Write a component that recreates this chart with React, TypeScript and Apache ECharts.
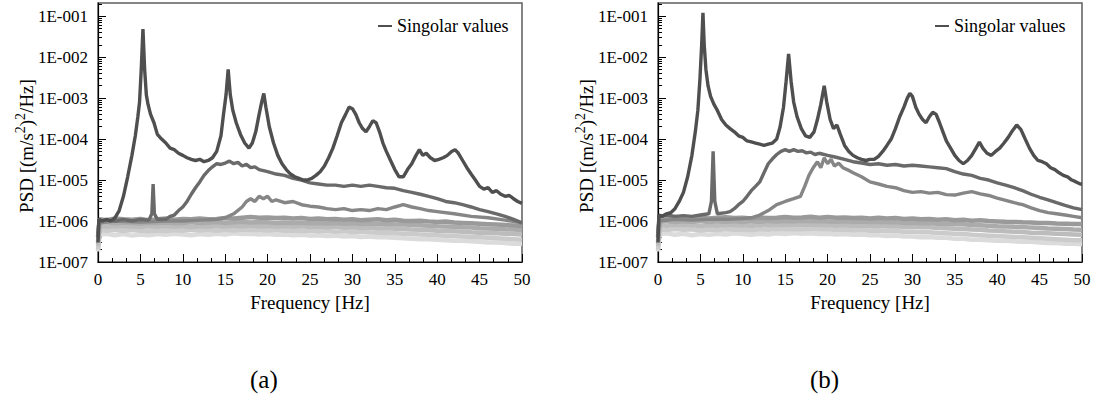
import { useEffect, useRef } from 'react';
import * as echarts from 'echarts';

const FONT = 'Liberation Serif';

// frequency grid shared by the low "noise band" singular values
const FREQ_BAND = [0, 0.2, 1, 2, 3, 4, 5, 6, 7, 8, 9, 10, 11, 12, 13, 14, 15, 16, 17, 18, 19, 20, 21, 22, 23, 24, 25, 26, 27, 28, 29, 30, 31, 32, 33, 34, 35, 36, 37, 38, 39, 40, 41, 42, 43, 44, 45, 46, 47, 48, 49, 50];

const Y_TICK_EXP = [-7, -6, -5, -4, -3, -2, -1];

// ---------- panel (a) ----------
const A1: [number, number][] = [
  [0, 3e-7], [0.1, 1.1e-6], [0.5, 1.0e-6], [1, 1.1e-6], [1.5, 1.0e-6], [2, 1.2e-6], [2.5, 1.8e-6], [3, 4e-6], [3.5, 1.2e-5], [4, 4e-5],
  [4.4, 1.2e-4], [4.7, 3.5e-4], [4.9, 8e-4], [5.1, 5e-3], [5.3, 4.8e-2], [5.5, 5e-3], [5.7, 1.2e-3], [5.9, 7e-4], [6.2, 4e-4], [6.6, 2.5e-4],
  [7, 1.3e-4], [7.5, 1e-4], [8, 8e-5], [8.5, 6e-5], [9, 5.5e-5], [9.5, 4.5e-5], [10, 4e-5], [10.5, 3.5e-5], [11, 3.2e-5], [11.5, 3e-5],
  [12, 3.2e-5], [12.5, 2.8e-5], [13, 3e-5], [13.5, 3.5e-5], [14, 5e-5], [14.5, 1.2e-4], [14.8, 4e-4], [15.1, 1.2e-3], [15.35, 5e-3], [15.6, 1.2e-3],
  [15.9, 5e-4], [16.3, 2.5e-4], [16.8, 1.3e-4], [17.3, 8e-5], [17.8, 6e-5], [18.2, 8e-5], [18.6, 1.5e-4], [19, 4e-4], [19.3, 8e-4], [19.55, 1.3e-3],
  [19.8, 6e-4], [20.2, 2e-4], [20.7, 8e-5], [21.2, 4e-5], [21.7, 2.5e-5], [22.2, 1.8e-5], [22.7, 1.4e-5], [23.2, 1.2e-5], [23.7, 1.1e-5], [24.2, 1e-5],
  [24.7, 1e-5], [25.2, 1.1e-5], [25.7, 1.3e-5], [26.2, 1.6e-5], [26.7, 2.2e-5], [27.2, 3.5e-5], [27.7, 6e-5], [28.2, 1.2e-4], [28.7, 2.5e-4], [29.2, 4e-4],
  [29.6, 6e-4], [30, 5.5e-4], [30.4, 4e-4], [30.8, 2.5e-4], [31.2, 1.8e-4], [31.6, 1.5e-4], [32, 2e-4], [32.4, 2.8e-4], [32.8, 2.5e-4], [33.2, 1.5e-4],
  [33.6, 8e-5], [34, 5e-5], [34.5, 3e-5], [35, 1.8e-5], [35.5, 1.2e-5], [36, 1.2e-5], [36.5, 1.8e-5], [37, 2.5e-5], [37.5, 4e-5], [37.9, 5.5e-5],
  [38.3, 4e-5], [38.7, 4.5e-5], [39.2, 3.5e-5], [39.7, 3e-5], [40.2, 3.2e-5], [40.7, 3.5e-5], [41.2, 4e-5], [41.7, 5e-5], [42.1, 5.5e-5], [42.5, 4.5e-5],
  [43, 3e-5], [43.5, 2e-5], [44, 1.4e-5], [44.5, 1e-5], [45, 7e-6], [45.5, 6e-6], [46, 6.5e-6], [46.5, 5e-6], [47, 5.5e-6], [47.5, 4.5e-6],
  [48, 4e-6], [48.5, 4.2e-6], [49, 3.5e-6], [49.5, 3e-6], [50, 2.7e-6],
];

const A2: [number, number][] = [
  [0, 4e-7], [0.1, 1e-6], [1, 1.05e-6], [2, 1e-6], [3, 1.1e-6], [4, 1e-6], [5, 1.1e-6], [6, 1.05e-6], [6.35, 1.5e-6], [6.5, 8e-6],
  [6.65, 1.5e-6], [7, 1.1e-6], [8, 1.1e-6], [8.5, 1.3e-6], [9, 1.4e-6], [9.5, 1.8e-6], [10, 2.2e-6], [10.5, 3e-6], [11, 4.5e-6], [11.5, 6.5e-6],
  [12, 9e-6], [12.5, 1.3e-5], [13, 1.7e-5], [13.5, 2.1e-5], [14, 2.5e-5], [14.5, 2.4e-5], [15, 2.6e-5], [15.5, 2.9e-5], [16, 2.5e-5], [16.5, 2.7e-5],
  [17, 2.2e-5], [17.5, 2.4e-5], [18, 2e-5], [18.5, 2.1e-5], [19, 1.8e-5], [20, 1.6e-5], [21, 1.4e-5], [22, 1.3e-5], [23, 1.1e-5], [24, 1e-5],
  [25, 8.5e-6], [26, 8e-6], [27, 7.5e-6], [28, 7.5e-6], [29, 7e-6], [30, 7.5e-6], [31, 7e-6], [32, 7.5e-6], [33, 7e-6], [34, 6.5e-6],
  [35, 6.3e-6], [36, 5.5e-6], [37, 5e-6], [38, 4.5e-6], [39, 4e-6], [40, 3.5e-6], [41, 3e-6], [42, 2.8e-6], [43, 2.5e-6], [44, 2.2e-6],
  [45, 1.9e-6], [46, 1.7e-6], [47, 1.5e-6], [48, 1.3e-6], [49, 1.1e-6], [50, 9e-7],
];

const A3: [number, number][] = [
  [0, 5e-7], [0.1, 9e-7], [2, 1e-6], [5, 9.5e-7], [8, 1e-6], [10, 1e-6], [12, 1.05e-6], [14, 1.1e-6], [15, 1.2e-6], [16, 1.5e-6],
  [17, 2.2e-6], [17.5, 3e-6], [18, 3.5e-6], [18.5, 3e-6], [19, 4e-6], [19.5, 3.5e-6], [20, 4e-6], [20.5, 3e-6], [21, 3.3e-6], [22, 2.8e-6],
  [23, 3e-6], [24, 2.5e-6], [25, 2.3e-6], [26, 2.2e-6], [27, 2e-6], [28, 1.9e-6], [29, 2e-6], [30, 1.8e-6], [31, 1.9e-6], [32, 1.8e-6],
  [33, 2e-6], [34, 1.9e-6], [35, 2.2e-6], [36, 2.5e-6], [37, 2.2e-6], [38, 2e-6], [39, 1.8e-6], [40, 1.7e-6], [42, 1.5e-6], [44, 1.3e-6],
  [46, 1.2e-6], [48, 1.05e-6], [50, 9e-7],
];

const A4 = [
  4e-7, 1.1e-6, 1.05e-6, 1.15e-6, 1.1e-6, 1.08e-6, 1.12e-6, 1.05e-6, 1.1e-6, 1.15e-6, 1.08e-6,
  1.12e-6, 1.1e-6, 1.15e-6, 1.1e-6, 1.12e-6, 1.18e-6, 1.15e-6, 1.2e-6, 1.25e-6, 1.2e-6,
  1.22e-6, 1.18e-6, 1.2e-6, 1.15e-6, 1.18e-6, 1.12e-6, 1.15e-6, 1.1e-6, 1.12e-6, 1.08e-6,
  1.1e-6, 1.05e-6, 1.08e-6, 1.1e-6, 1.05e-6, 1.08e-6, 1.02e-6, 1.0e-6, 1.02e-6, 9.8e-7,
  9.5e-7, 9.7e-7, 9.2e-7, 9.0e-7, 8.8e-7, 8.6e-7, 8.4e-7, 8.2e-7, 8.0e-7, 7.8e-7,
  7.6e-7,
];
const A5 = [
  3e-7, 9e-7, 9.3e-7, 8.8e-7, 9.2e-7, 9e-7, 8.7e-7, 9.1e-7, 8.9e-7, 9.2e-7, 8.8e-7,
  9.0e-7, 9.3e-7, 8.9e-7, 9.1e-7, 9.4e-7, 9.0e-7, 9.3e-7, 9.6e-7, 9.2e-7, 9.5e-7,
  9.3e-7, 9.0e-7, 9.2e-7, 8.9e-7, 9.1e-7, 8.8e-7, 9.0e-7, 8.7e-7, 8.9e-7, 8.6e-7,
  8.8e-7, 8.5e-7, 8.7e-7, 8.4e-7, 8.5e-7, 8.2e-7, 8.3e-7, 8.0e-7, 7.9e-7, 7.7e-7,
  7.5e-7, 7.4e-7, 7.2e-7, 7.0e-7, 6.9e-7, 6.7e-7, 6.6e-7, 6.5e-7, 6.3e-7, 6.2e-7,
  6.0e-7,
];
const A6 = [
  2.5e-7, 7.5e-7, 7.2e-7, 7.6e-7, 7.3e-7, 7.5e-7, 7.1e-7, 7.4e-7, 7.2e-7, 7.5e-7, 7.3e-7,
  7.4e-7, 7.1e-7, 7.5e-7, 7.3e-7, 7.6e-7, 7.4e-7, 7.7e-7, 7.5e-7, 7.8e-7, 7.5e-7,
  7.6e-7, 7.3e-7, 7.5e-7, 7.2e-7, 7.4e-7, 7.1e-7, 7.3e-7, 7.0e-7, 7.2e-7, 6.9e-7,
  7.0e-7, 6.8e-7, 6.9e-7, 6.6e-7, 6.7e-7, 6.5e-7, 6.4e-7, 6.2e-7, 6.1e-7, 6.0e-7,
  5.8e-7, 5.7e-7, 5.6e-7, 5.5e-7, 5.3e-7, 5.2e-7, 5.1e-7, 5.0e-7, 4.9e-7, 4.8e-7,
  4.7e-7,
];
const A7 = [
  2e-7, 6e-7, 5.8e-7, 6.1e-7, 5.7e-7, 6.0e-7, 5.8e-7, 5.6e-7, 5.9e-7, 5.7e-7, 6.0e-7,
  5.8e-7, 6.1e-7, 5.9e-7, 6.0e-7, 5.8e-7, 6.1e-7, 5.9e-7, 6.2e-7, 6.0e-7, 6.1e-7,
  5.9e-7, 6.0e-7, 5.8e-7, 5.9e-7, 5.7e-7, 5.8e-7, 5.6e-7, 5.7e-7, 5.5e-7, 5.6e-7,
  5.4e-7, 5.5e-7, 5.3e-7, 5.2e-7, 5.1e-7, 5.0e-7, 4.9e-7, 4.8e-7, 4.7e-7, 4.6e-7,
  4.5e-7, 4.4e-7, 4.3e-7, 4.2e-7, 4.1e-7, 4.0e-7, 3.9e-7, 3.8e-7, 3.7e-7, 3.6e-7,
  3.5e-7,
];
const A8 = [
  1.8e-7, 4.6e-7, 4.9e-7, 4.5e-7, 4.8e-7, 4.4e-7, 4.7e-7, 4.5e-7, 4.8e-7, 4.6e-7, 4.9e-7,
  4.7e-7, 4.5e-7, 4.8e-7, 4.6e-7, 4.9e-7, 4.7e-7, 5.0e-7, 4.8e-7, 4.9e-7, 4.7e-7,
  4.8e-7, 4.6e-7, 4.7e-7, 4.5e-7, 4.6e-7, 4.4e-7, 4.5e-7, 4.3e-7, 4.4e-7, 4.2e-7,
  4.3e-7, 4.1e-7, 4.2e-7, 4.0e-7, 4.0e-7, 3.9e-7, 3.8e-7, 3.7e-7, 3.6e-7, 3.6e-7,
  3.5e-7, 3.4e-7, 3.3e-7, 3.3e-7, 3.2e-7, 3.1e-7, 3.0e-7, 3.0e-7, 2.9e-7, 2.8e-7,
  2.8e-7,
];

// ---------- panel (b) ----------
const B1: [number, number][] = [
  [0, 3e-7], [0.1, 1.4e-6], [0.5, 1.3e-6], [1, 1.5e-6], [1.5, 1.6e-6], [2, 2e-6], [2.5, 3e-6], [3, 5e-6], [3.5, 1.2e-5], [4, 4e-5],
  [4.4, 1.5e-4], [4.7, 5e-4], [4.95, 3e-3], [5.15, 2e-2], [5.3, 1.2e-1], [5.45, 2e-2], [5.65, 5e-3], [5.9, 2e-3], [6.2, 1.1e-3], [6.6, 7e-4],
  [7, 5e-4], [7.5, 3e-4], [8, 2.2e-4], [8.5, 1.8e-4], [9, 1.5e-4], [9.5, 1.2e-4], [10, 1.1e-4], [10.5, 9e-5], [11, 8.5e-5], [11.5, 8e-5],
  [12, 7.5e-5], [12.5, 7e-5], [13, 7.5e-5], [13.5, 8e-5], [14, 1e-4], [14.4, 2e-4], [14.8, 6e-4], [15.1, 2.5e-3], [15.4, 1.2e-2], [15.7, 2.5e-3],
  [16, 8e-4], [16.4, 3.5e-4], [16.9, 1.8e-4], [17.4, 1.2e-4], [17.9, 1.1e-4], [18.4, 1.5e-4], [18.8, 3e-4], [19.2, 7e-4], [19.6, 2e-3], [19.9, 8e-4],
  [20.3, 3e-4], [20.7, 1.8e-4], [21.1, 2.2e-4], [21.5, 1.3e-4], [22, 7e-5], [22.5, 5e-5], [23, 4e-5], [23.5, 3.5e-5], [24, 3.2e-5], [24.5, 3e-5],
  [25, 3.2e-5], [25.5, 3.2e-5], [26, 3.8e-5], [26.5, 5e-5], [27, 7e-5], [27.5, 1e-4], [28, 1.8e-4], [28.5, 3.5e-4], [29, 6e-4], [29.4, 1e-3],
  [29.7, 1.3e-3], [30, 1.1e-3], [30.4, 6e-4], [30.8, 4e-4], [31.2, 3e-4], [31.6, 2.5e-4], [32, 3.5e-4], [32.4, 4.5e-4], [32.8, 4e-4], [33.2, 2.5e-4],
  [33.6, 1.5e-4], [34, 9e-5], [34.5, 6e-5], [35, 4e-5], [35.5, 3e-5], [36, 2.5e-5], [36.5, 3e-5], [37, 4e-5], [37.5, 6e-5], [37.9, 8.5e-5],
  [38.3, 6e-5], [38.8, 4.5e-5], [39.3, 4e-5], [39.8, 5e-5], [40.3, 6e-5], [40.8, 8e-5], [41.3, 1.1e-4], [41.8, 1.6e-4], [42.3, 2.2e-4], [42.8, 1.7e-4],
  [43.3, 1e-4], [43.8, 6e-5], [44.3, 4e-5], [44.8, 3e-5], [45.3, 2.8e-5], [45.8, 2.5e-5], [46.3, 2e-5], [46.8, 1.8e-5], [47.3, 1.5e-5], [47.8, 1.3e-5],
  [48.3, 1.2e-5], [48.8, 1e-5], [49.3, 9e-6], [49.8, 8e-6], [50, 8e-6],
];

const B2: [number, number][] = [
  [0, 4e-7], [0.1, 1.3e-6], [1, 1.4e-6], [2, 1.3e-6], [3, 1.35e-6], [4, 1.3e-6], [5, 1.4e-6], [6, 1.5e-6], [6.3, 3e-6], [6.5, 5e-5],
  [6.7, 3e-6], [7, 1.5e-6], [8, 1.6e-6], [8.5, 1.7e-6], [9, 2e-6], [9.5, 2.5e-6], [10, 3e-6], [10.5, 4e-6], [11, 5.5e-6], [11.5, 7e-6],
  [12, 9e-6], [12.5, 1.5e-5], [13, 2.5e-5], [13.5, 3.3e-5], [14, 4.2e-5], [14.5, 5e-5], [15, 5.5e-5], [15.5, 5e-5], [16, 5.5e-5], [16.5, 5e-5],
  [17, 5.2e-5], [17.5, 4.6e-5], [18, 4.8e-5], [18.5, 4.2e-5], [19, 4.5e-5], [20, 4e-5], [21, 3.6e-5], [22, 3.2e-5], [23, 2.8e-5], [24, 2.6e-5],
  [25, 2.4e-5], [26, 2.5e-5], [27, 2.3e-5], [28, 2.4e-5], [29, 2.2e-5], [30, 2.3e-5], [31, 2.2e-5], [32, 2.1e-5], [33, 2e-5], [34, 1.9e-5],
  [35, 1.6e-5], [36, 1.4e-5], [37, 1.3e-5], [38, 1.1e-5], [39, 1e-5], [40, 8.5e-6], [41, 7.5e-6], [42, 6.5e-6], [43, 5.5e-6], [44, 4.5e-6],
  [45, 3.8e-6], [46, 3.3e-6], [47, 2.8e-6], [48, 2.4e-6], [49, 2.1e-6], [50, 1.9e-6],
];

const B3: [number, number][] = [
  [0, 5e-7], [0.1, 1e-6], [2, 1.1e-6], [4, 1.05e-6], [6, 1.1e-6], [8, 1.1e-6], [10, 1.15e-6], [11, 1.2e-6], [12, 1.4e-6], [13, 1.8e-6],
  [14, 2.5e-6], [15, 3e-6], [16, 3.5e-6], [16.8, 4e-6], [17.3, 7e-6], [17.8, 1.3e-5], [18.3, 2e-5], [18.8, 2.8e-5], [19.2, 2e-5], [19.6, 3.5e-5],
  [20, 2.5e-5], [20.4, 3.2e-5], [20.8, 2.2e-5], [21.3, 2.6e-5], [21.8, 2e-5], [22.3, 1.8e-5], [23, 1.5e-5], [24, 1.2e-5], [25, 9e-6], [26, 8e-6],
  [27, 7e-6], [28, 6.5e-6], [29, 5.5e-6], [30, 5e-6], [31, 5.2e-6], [32, 4.8e-6], [33, 5e-6], [34, 4.4e-6], [35, 4.3e-6], [36, 4.8e-6],
  [37, 5.2e-6], [38, 4.6e-6], [39, 4.2e-6], [40, 3.6e-6], [41, 3.2e-6], [42, 2.8e-6], [43, 2.5e-6], [44, 2.1e-6], [45, 1.8e-6], [46, 1.6e-6],
  [47, 1.5e-6], [48, 1.4e-6], [49, 1.3e-6], [50, 1.2e-6],
];

const B4 = [
  4e-7, 1.2e-6, 1.15e-6, 1.25e-6, 1.2e-6, 1.18e-6, 1.22e-6, 1.15e-6, 1.2e-6, 1.24e-6, 1.18e-6,
  1.2e-6, 1.16e-6, 1.22e-6, 1.18e-6, 1.2e-6, 1.25e-6, 1.2e-6, 1.22e-6, 1.28e-6, 1.2e-6,
  1.25e-6, 1.2e-6, 1.22e-6, 1.18e-6, 1.2e-6, 1.15e-6, 1.2e-6, 1.15e-6, 1.18e-6, 1.12e-6,
  1.15e-6, 1.1e-6, 1.12e-6, 1.08e-6, 1.1e-6, 1.05e-6, 1.08e-6, 1.02e-6, 1.04e-6, 1.0e-6,
  9.8e-7, 9.6e-7, 9.5e-7, 9.3e-7, 9.2e-7, 9.0e-7, 8.9e-7, 8.7e-7, 8.6e-7, 8.5e-7,
  8.4e-7,
];
const B5 = [
  3e-7, 9.8e-7, 1.0e-6, 9.5e-7, 9.9e-7, 9.6e-7, 1.0e-6, 9.4e-7, 9.8e-7, 9.6e-7, 9.9e-7,
  9.5e-7, 9.8e-7, 9.6e-7, 1.0e-6, 9.7e-7, 1.0e-6, 9.8e-7, 1.02e-6, 9.9e-7, 1.0e-6,
  9.8e-7, 9.6e-7, 9.8e-7, 9.5e-7, 9.7e-7, 9.4e-7, 9.5e-7, 9.2e-7, 9.3e-7, 9.0e-7,
  9.1e-7, 8.8e-7, 8.9e-7, 8.6e-7, 8.6e-7, 8.3e-7, 8.3e-7, 8.0e-7, 7.9e-7, 7.7e-7,
  7.5e-7, 7.4e-7, 7.2e-7, 7.1e-7, 6.9e-7, 6.8e-7, 6.6e-7, 6.5e-7, 6.4e-7, 6.2e-7,
  6.1e-7,
];
const B6 = [
  2.5e-7, 8e-7, 7.7e-7, 8.1e-7, 7.8e-7, 8.0e-7, 7.6e-7, 7.9e-7, 7.7e-7, 8.0e-7, 7.8e-7,
  7.9e-7, 7.6e-7, 8.0e-7, 7.8e-7, 8.1e-7, 7.9e-7, 8.2e-7, 8.0e-7, 8.2e-7, 7.9e-7,
  8.0e-7, 7.7e-7, 7.9e-7, 7.6e-7, 7.8e-7, 7.5e-7, 7.6e-7, 7.3e-7, 7.4e-7, 7.1e-7,
  7.2e-7, 7.0e-7, 7.0e-7, 6.8e-7, 6.7e-7, 6.5e-7, 6.4e-7, 6.2e-7, 6.1e-7, 5.9e-7,
  5.8e-7, 5.6e-7, 5.5e-7, 5.4e-7, 5.2e-7, 5.1e-7, 5.0e-7, 4.9e-7, 4.8e-7, 4.7e-7,
  4.6e-7,
];
const B7 = [
  2e-7, 6.3e-7, 6.0e-7, 6.4e-7, 6.1e-7, 6.3e-7, 5.9e-7, 6.2e-7, 6.0e-7, 6.3e-7, 6.1e-7,
  6.2e-7, 5.9e-7, 6.3e-7, 6.1e-7, 6.4e-7, 6.2e-7, 6.4e-7, 6.2e-7, 6.5e-7, 6.2e-7,
  6.3e-7, 6.0e-7, 6.2e-7, 5.9e-7, 6.0e-7, 5.8e-7, 5.9e-7, 5.6e-7, 5.7e-7, 5.5e-7,
  5.5e-7, 5.3e-7, 5.3e-7, 5.1e-7, 5.0e-7, 4.9e-7, 4.8e-7, 4.6e-7, 4.5e-7, 4.4e-7,
  4.3e-7, 4.2e-7, 4.1e-7, 4.0e-7, 3.9e-7, 3.8e-7, 3.7e-7, 3.6e-7, 3.5e-7, 3.4e-7,
  3.4e-7,
];
const B8 = [
  1.8e-7, 4.8e-7, 5.0e-7, 4.6e-7, 4.9e-7, 4.5e-7, 4.8e-7, 4.6e-7, 4.9e-7, 4.7e-7, 5.0e-7,
  4.8e-7, 4.6e-7, 4.9e-7, 4.7e-7, 5.0e-7, 4.8e-7, 5.1e-7, 4.9e-7, 5.0e-7, 4.8e-7,
  4.9e-7, 4.7e-7, 4.8e-7, 4.6e-7, 4.7e-7, 4.5e-7, 4.5e-7, 4.3e-7, 4.4e-7, 4.2e-7,
  4.2e-7, 4.0e-7, 4.1e-7, 3.9e-7, 3.9e-7, 3.7e-7, 3.7e-7, 3.5e-7, 3.5e-7, 3.4e-7,
  3.3e-7, 3.3e-7, 3.2e-7, 3.1e-7, 3.1e-7, 3.0e-7, 2.9e-7, 2.9e-7, 2.8e-7, 2.8e-7,
  2.7e-7,
];

const LEGEND_NAME = 'Singolar values';
const CAPTIONS = ['(a)', '(b)'];
const Y_NAME = '{n|PSD [(m/s}{s|2}{n|)}{s|2}{n|/Hz]}';
const X_NAME = 'Frequency [Hz]';

const BAND_COLORS = ['#9a9a9a', '#ababab', '#bcbcbc', '#cbcbcb', '#dbdbdb'];
const SV_COLORS = ['#4f4f4f', '#6a6a6a', '#868686'];

const Y_MIN = 1e-7;
const Y_MAX = 0.209;
const LOG_MAX = Math.log10(Y_MAX);

const PANEL_LEFT = [98, 658];

function buildOption() {
  const minorTicks: number[] = [];
  Y_TICK_EXP.forEach((e) => {
    for (let k = 2; k <= 9; k++) {
      const v = e + Math.log10(k);
      if (v < LOG_MAX) minorTicks.push(v);
    }
  });

  const grids = PANEL_LEFT.map((left) => ({
    left, top: 3, width: 424, height: 259,
    show: true, borderColor: '#5e5e5e', borderWidth: 1.5, backgroundColor: 'transparent',
  }));

  const xAxes = PANEL_LEFT.map((_, i) => ({
    type: 'value', gridIndex: i, min: 0, max: 50, interval: 5,
    axisLine: { show: true, onZero: false, lineStyle: { color: '#000', width: 1.2 } },
    axisTick: { show: true, inside: true, length: 8, lineStyle: { color: '#000', width: 1 } },
    minorTick: { show: true, splitNumber: 3, length: 4, lineStyle: { color: '#000', width: 1 } },
    axisLabel: { fontFamily: FONT, fontSize: 17, color: '#000', margin: 9 },
    splitLine: { show: false }, minorSplitLine: { show: false },
    name: X_NAME, nameLocation: 'middle', nameGap: 31,
    nameTextStyle: { fontFamily: FONT, fontSize: 19, color: '#000' },
  }));

  const yAxes: any[] = [];
  PANEL_LEFT.forEach((_, i) => {
    yAxes.push({
      type: 'log', logBase: 10, gridIndex: i, position: 'left', offset: 0,
      min: Y_MIN, max: Y_MAX,
      axisLine: { show: true, onZero: false, lineStyle: { color: '#000', width: 1.2 } },
      axisTick: { show: true, inside: true, length: 8, lineStyle: { color: '#000', width: 1 } },
      axisLabel: {
        fontFamily: FONT, fontSize: 17, color: '#000', margin: 10, showMaxLabel: false,
        formatter: (v: number) => {
          const e = Math.log10(v);
          const r = Math.round(e);
          if (Math.abs(e - r) > 1e-6) return '';
          return '1E-' + String(-r).padStart(3, '0');
        },
      },
      splitLine: { show: false },
    });
    yAxes.push({
      type: 'value', gridIndex: i, position: 'left', offset: 0,
      min: -7, max: LOG_MAX,
      axisLine: { show: false },
      axisLabel: { show: false },
      splitLine: { show: false },
      axisTick: { show: true, inside: true, length: 4, customValues: minorTicks, lineStyle: { color: '#000', width: 1 } },
    });
  });

  const band = (vals: number[]) => FREQ_BAND.map((f, i) => [f, vals[i]]);
  const panels = [
    { sv: [A1, A2, A3], band: [A4, A5, A6, A7, A8] },
    { sv: [B1, B2, B3], band: [B4, B5, B6, B7, B8] },
  ];

  const series: any[] = [];
  panels.forEach((p, pi) => {
    const axisRef = { xAxisIndex: pi, yAxisIndex: pi * 2 };
    for (let k = p.band.length - 1; k >= 0; k--) {
      series.push({
        type: 'line', name: `p${pi}-sv${k + 4}`, ...axisRef,
        data: band(p.band[k]), showSymbol: false, symbol: 'none',
        color: BAND_COLORS[k], lineStyle: { color: BAND_COLORS[k], width: 4.5 },
        z: 2, silent: true,
      });
    }
    for (let k = p.sv.length - 1; k >= 0; k--) {
      series.push({
        type: 'line', name: k === 0 ? LEGEND_NAME : `p${pi}-sv${k + 1}`, ...axisRef,
        data: p.sv[k], showSymbol: false, symbol: 'none',
        color: SV_COLORS[k], lineStyle: { color: SV_COLORS[k], width: 3.4 },
        z: 3, silent: true,
      });
    }
  });

  const legends = [373, 930].map((left) => ({
    data: [LEGEND_NAME], left, top: 12, icon: 'rect', itemWidth: 14, itemHeight: 2,
    textStyle: { fontFamily: FONT, fontSize: 18, color: '#000' },
    selectedMode: false,
  }));

  const graphic: any[] = [];
  CAPTIONS.forEach((t, i) => {
    graphic.push({
      type: 'text', left: 250 + i * 560, top: 367,
      style: { text: t, fontFamily: FONT, fontSize: 25, fill: '#000' },
    });
    graphic.push({
      type: 'text', x: 26 + i * 560, y: 146, rotation: Math.PI / 2,
      style: {
        text: Y_NAME, x: 0, y: 0, align: 'center', verticalAlign: 'middle', fill: '#000',
        fontFamily: FONT, fontSize: 19,
        rich: {
          n: { fontFamily: FONT, fontSize: 19, lineHeight: 26, fill: '#000' },
          s: { fontFamily: FONT, fontSize: 14, lineHeight: 14, verticalAlign: 'top', fill: '#000' },
        },
      },
    });
  });

  return {
    animation: false,
    backgroundColor: '#fff',
    grid: grids,
    xAxis: xAxes,
    yAxis: yAxes,
    legend: legends,
    series,
    graphic,
  };
}

export default function App() {
  const ref = useRef<HTMLDivElement>(null);
  useEffect(() => {
    const chart = echarts.init(ref.current!, null, { renderer: 'svg' });
    chart.setOption(buildOption() as any);
    return () => chart.dispose();
  }, []);
  return (
    <div
      ref={ref}
      style={{ position: 'absolute', left: 0, top: 0, width: 1098, height: 405 }}
    />
  );
}
